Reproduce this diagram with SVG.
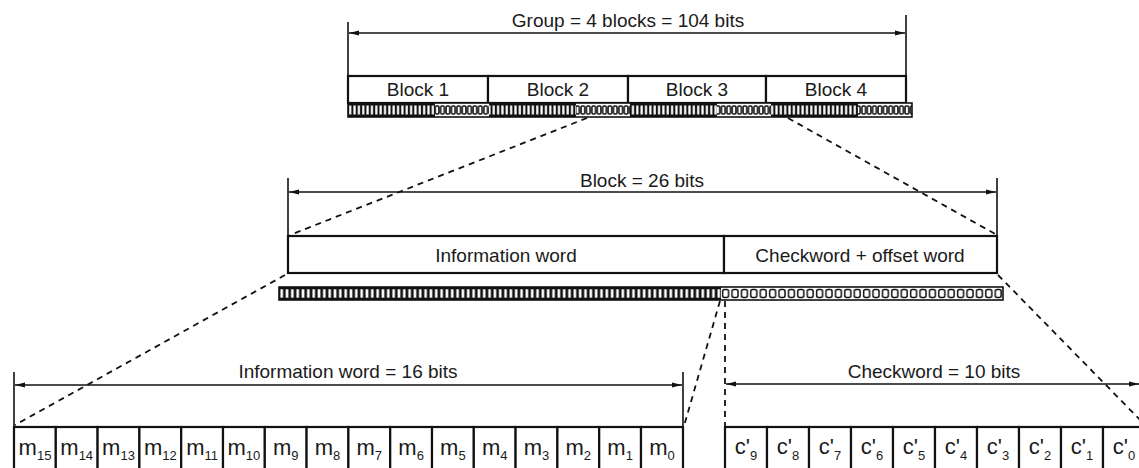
<svg xmlns="http://www.w3.org/2000/svg" width="1139" height="468" viewBox="0 0 1139 468">
<style>
text{font-family:"Liberation Sans",Arial,sans-serif;fill:#1a1a1a}
.lbl{font-size:19px;text-anchor:middle}
.cell{font-size:22px;text-anchor:middle}
.sub{font-size:13px}
.box{fill:#fff;stroke:#111;stroke-width:2.2}
.dim{stroke:#111;stroke-width:1.3;fill:none}
.ext{stroke:#111;stroke-width:1.6;fill:none}
.dash{stroke:#111;stroke-width:1.8;stroke-dasharray:6 5;fill:none}
.bar{fill:none;stroke:#111;stroke-width:1.6}
</style>
<defs>
<marker id="ah" viewBox="0 0 10 6" refX="10" refY="3" markerWidth="10" markerHeight="6" markerUnits="userSpaceOnUse" orient="auto-start-reverse">
<path d="M0,0.5 L10,3 L0,5.5 z" fill="#111"/>
</marker>
<pattern id="pIs" patternUnits="userSpaceOnUse" x="348" y="103" width="4.35" height="14">
<rect width="4.35" height="14" fill="#111"/><rect x="1.1" y="2.5" width="2.2" height="9" fill="#fff"/>
</pattern>
<pattern id="pOs" patternUnits="userSpaceOnUse" x="348" y="103" width="5.4" height="14">
<rect width="5.4" height="14" fill="#fff"/><rect x="0.9" y="3" width="3.6" height="8" rx="1.2" fill="none" stroke="#111" stroke-width="1.5"/>
</pattern>
<pattern id="pIm" patternUnits="userSpaceOnUse" x="279" y="287" width="5.33" height="13">
<rect width="5.33" height="13" fill="#111"/><rect x="1.4" y="2.3" width="2.6" height="8.4" fill="#fff"/>
</pattern>
<pattern id="pOm" patternUnits="userSpaceOnUse" x="721" y="287" width="9.4" height="13">
<rect width="9.4" height="13" fill="#fff"/><rect x="1.6" y="2.5" width="6" height="8" rx="2" fill="none" stroke="#111" stroke-width="1.5"/>
</pattern>
</defs>
<rect width="1139" height="468" fill="#fff"/>

<g id="group">
<line class="ext" x1="348" y1="22" x2="348" y2="76"/>
<line class="ext" x1="906" y1="15" x2="906" y2="76"/>
<line class="dim" x1="349" y1="33" x2="905" y2="33" marker-start="url(#ah)" marker-end="url(#ah)"/>
<text class="lbl" x="628" y="27">Group = 4 blocks = 104 bits</text>
</g>

<g id="block1"><rect class="box" x="348" y="76" width="140" height="27"/><text class="lbl" x="418" y="96">Block 1</text></g>
<g id="block2"><rect class="box" x="488" y="76" width="140" height="27"/><text class="lbl" x="558" y="96">Block 2</text></g>
<g id="block3"><rect class="box" x="628" y="76" width="138" height="27"/><text class="lbl" x="697" y="96">Block 3</text></g>
<g id="block4"><rect class="box" x="766" y="76" width="140" height="27"/><text class="lbl" x="836" y="96">Block 4</text></g>

<g id="groupbits">
<rect x="348" y="103" width="87" height="14" fill="url(#pIs)"/><rect x="435" y="103" width="54" height="14" fill="url(#pOs)"/>
<rect x="489" y="103" width="87" height="14" fill="url(#pIs)"/><rect x="576" y="103" width="54" height="14" fill="url(#pOs)"/>
<rect x="630" y="103" width="87" height="14" fill="url(#pIs)"/><rect x="717" y="103" width="54" height="14" fill="url(#pOs)"/>
<rect x="771" y="103" width="87" height="14" fill="url(#pIs)"/><rect x="858" y="103" width="54" height="14" fill="url(#pOs)"/>
<rect class="bar" x="348" y="103" width="564" height="14"/>
</g>

<g id="blockdim">
<line class="ext" x1="288" y1="178" x2="288" y2="236"/>
<line class="ext" x1="997" y1="178" x2="997" y2="236"/>
<line class="dim" x1="289" y1="192" x2="996" y2="192" marker-start="url(#ah)" marker-end="url(#ah)"/>
<text class="lbl" x="642" y="187">Block = 26 bits</text>
</g>

<g id="infoword"><rect class="box" x="288" y="236" width="436" height="37" stroke-width="2.6"/><text class="lbl" x="506" y="262">Information word</text></g>
<g id="checkoffset"><rect class="box" x="724" y="236" width="273" height="37" stroke-width="2.6"/><text class="lbl" x="860" y="262">Checkword + offset word</text></g>

<g id="blockbits">
<rect x="279" y="287" width="442" height="13" fill="url(#pIm)"/>
<rect x="721" y="287" width="282" height="13" fill="url(#pOm)"/>
<rect class="bar" x="279" y="287" width="724" height="13"/>
</g>

<g id="infodim">
<line class="ext" x1="14" y1="372" x2="14" y2="427"/>
<line class="ext" x1="683" y1="372" x2="683" y2="427"/>
<line class="dim" x1="15" y1="385" x2="682" y2="385" marker-start="url(#ah)" marker-end="url(#ah)"/>
<text class="lbl" x="348" y="378">Information word = 16 bits</text>
</g>

<g id="checkdim">
<line class="dim" x1="726" y1="384" x2="1139" y2="384" marker-start="url(#ah)" marker-end="url(#ah)"/>
<text class="lbl" x="934" y="378">Checkword = 10 bits</text>
</g>

<g id="mcells">
<rect class="box" x="14" y="427" width="41.8" height="45"/><text class="cell" x="35" y="455">m<tspan class="sub" dy="5">15</tspan></text>
<rect class="box" x="55.8" y="427" width="41.8" height="45"/><text class="cell" x="76.7" y="455">m<tspan class="sub" dy="5">14</tspan></text>
<rect class="box" x="97.6" y="427" width="41.8" height="45"/><text class="cell" x="118.5" y="455">m<tspan class="sub" dy="5">13</tspan></text>
<rect class="box" x="139.4" y="427" width="41.8" height="45"/><text class="cell" x="160.3" y="455">m<tspan class="sub" dy="5">12</tspan></text>
<rect class="box" x="181.2" y="427" width="41.8" height="45"/><text class="cell" x="202.1" y="455">m<tspan class="sub" dy="5">11</tspan></text>
<rect class="box" x="223" y="427" width="41.8" height="45"/><text class="cell" x="243.9" y="455">m<tspan class="sub" dy="5">10</tspan></text>
<rect class="box" x="264.8" y="427" width="41.8" height="45"/><text class="cell" x="285.7" y="455">m<tspan class="sub" dy="5">9</tspan></text>
<rect class="box" x="306.6" y="427" width="41.8" height="45"/><text class="cell" x="327.5" y="455">m<tspan class="sub" dy="5">8</tspan></text>
<rect class="box" x="348.4" y="427" width="41.8" height="45"/><text class="cell" x="369.3" y="455">m<tspan class="sub" dy="5">7</tspan></text>
<rect class="box" x="390.2" y="427" width="41.8" height="45"/><text class="cell" x="411.1" y="455">m<tspan class="sub" dy="5">6</tspan></text>
<rect class="box" x="432" y="427" width="41.8" height="45"/><text class="cell" x="452.9" y="455">m<tspan class="sub" dy="5">5</tspan></text>
<rect class="box" x="473.8" y="427" width="41.8" height="45"/><text class="cell" x="494.7" y="455">m<tspan class="sub" dy="5">4</tspan></text>
<rect class="box" x="515.6" y="427" width="41.8" height="45"/><text class="cell" x="536.5" y="455">m<tspan class="sub" dy="5">3</tspan></text>
<rect class="box" x="557.4" y="427" width="41.8" height="45"/><text class="cell" x="578.3" y="455">m<tspan class="sub" dy="5">2</tspan></text>
<rect class="box" x="599.2" y="427" width="41.8" height="45"/><text class="cell" x="620.1" y="455">m<tspan class="sub" dy="5">1</tspan></text>
<rect class="box" x="641" y="427" width="42" height="45"/><text class="cell" x="662" y="455">m<tspan class="sub" dy="5">0</tspan></text>
</g>

<g id="ccells">
<rect class="box" x="725" y="427" width="42" height="45"/><text class="cell" x="746" y="454" font-size="20">c'<tspan class="sub" dy="6">9</tspan></text>
<rect class="box" x="767" y="427" width="42" height="45"/><text class="cell" x="788" y="454" font-size="20">c'<tspan class="sub" dy="6">8</tspan></text>
<rect class="box" x="809" y="427" width="42" height="45"/><text class="cell" x="830" y="454" font-size="20">c'<tspan class="sub" dy="6">7</tspan></text>
<rect class="box" x="851" y="427" width="42" height="45"/><text class="cell" x="872" y="454" font-size="20">c'<tspan class="sub" dy="6">6</tspan></text>
<rect class="box" x="893" y="427" width="42" height="45"/><text class="cell" x="914" y="454" font-size="20">c'<tspan class="sub" dy="6">5</tspan></text>
<rect class="box" x="935" y="427" width="42" height="45"/><text class="cell" x="956" y="454" font-size="20">c'<tspan class="sub" dy="6">4</tspan></text>
<rect class="box" x="977" y="427" width="42" height="45"/><text class="cell" x="998" y="454" font-size="20">c'<tspan class="sub" dy="6">3</tspan></text>
<rect class="box" x="1019" y="427" width="42" height="45"/><text class="cell" x="1040" y="454" font-size="20">c'<tspan class="sub" dy="6">2</tspan></text>
<rect class="box" x="1061" y="427" width="42" height="45"/><text class="cell" x="1082" y="454" font-size="20">c'<tspan class="sub" dy="6">1</tspan></text>
<rect class="box" x="1103" y="427" width="42" height="45"/><text class="cell" x="1124" y="454" font-size="20">c'<tspan class="sub" dy="6">0</tspan></text>
</g>

<g id="connectors">
<line class="dash" x1="587" y1="118" x2="290" y2="235"/>
<line class="dash" x1="788" y1="118" x2="997" y2="235"/>
<line class="dash" x1="285" y1="275" x2="15" y2="425"/>
<line class="dash" x1="720" y1="301" x2="684" y2="426"/>
<line class="dash" x1="725" y1="301" x2="725" y2="427"/>
<line class="dash" x1="998" y1="275" x2="1150" y2="430"/>
</g>
</svg>
